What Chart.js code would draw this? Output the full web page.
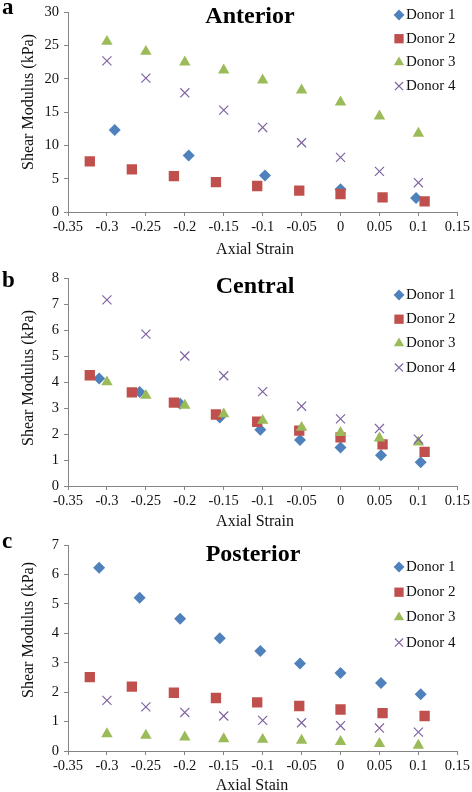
<!DOCTYPE html>
<html>
<head>
<meta charset="utf-8">
<script src="https://cdn.jsdelivr.net/npm/chart.js@4"></script>
<style>
  html, body { margin: 0; padding: 0; background: #fff; overflow: hidden; }
  #wrap { position: relative; width: 472px; height: 792px; }
  #wrap canvas { position: absolute; left: 0; top: 0; }
</style>
</head>
<body>
<div id="wrap">
  <canvas id="anterior" width="472" height="800"></canvas>
  <canvas id="central" width="472" height="800"></canvas>
  <canvas id="posterior" width="472" height="800"></canvas>
</div>
<script>
// axial strain positions (each donor sits slightly offset in the original)
const strainNominal = [-0.3, -0.25, -0.2, -0.15, -0.1, -0.05, 0, 0.05, 0.1];
const strainDonor1 = [-0.31, -0.258, -0.206, -0.155, -0.103, -0.052, 0, 0.052, 0.103];
const strainDonor1Ant = [-0.29, -0.195, -0.097, 0, 0.097];
const strainDonor2 = [-0.322, -0.268, -0.214, -0.16, -0.107, -0.053, 0, 0.054, 0.108];

// shear modulus (kPa)
const antDonor1 = [12.3, 8.5, 5.5, 3.4, 2.1];
const antDonor2 = [7.6, 6.4, 5.4, 4.5, 3.9, 3.2, 2.7, 2.2, 1.6];
const antDonor3 = [25.6, 24.1, 22.5, 21.3, 19.8, 18.3, 16.5, 14.4, 11.8];
const antDonor4 = [22.7, 20.1, 17.9, 15.3, 12.7, 10.4, 8.2, 6.1, 4.4];

const cenDonor1 = [4.13, 3.62, 3.16, 2.63, 2.16, 1.77, 1.48, 1.18, 0.91];
const cenDonor2 = [4.26, 3.6, 3.21, 2.75, 2.47, 2.13, 1.87, 1.6, 1.31];
const cenDonor3 = [4.0, 3.48, 3.1, 2.77, 2.52, 2.25, 2.05, 1.84, 1.68];
const cenDonor4 = [7.16, 5.84, 5.0, 4.24, 3.63, 3.07, 2.58, 2.21, 1.8];

const posDonor1 = [6.23, 5.21, 4.49, 3.83, 3.4, 2.97, 2.65, 2.31, 1.93];
const posDonor2 = [2.51, 2.19, 1.98, 1.8, 1.65, 1.53, 1.41, 1.29, 1.19];
const posDonor3 = [0.58, 0.53, 0.47, 0.41, 0.39, 0.36, 0.32, 0.25, 0.19];
const posDonor4 = [1.72, 1.5, 1.31, 1.19, 1.04, 0.96, 0.86, 0.78, 0.64];

const donorLabels = ['Donor 1', 'Donor 2', 'Donor 3', 'Donor 4'];
const xTicks = { min: -0.35, max: 0.15, step: 0.05 };

const SERIF = '"Liberation Serif", "Times New Roman", serif';
const AXIS = '#858585';
const TEXT = '#111';

const markers = [
  { pointStyle: 'rectRot', pointRadius: 6, color: '#4F81BD', borderWidth: 0 },
  { pointStyle: 'rect', pointRadius: 7.3, color: '#C0504D', borderWidth: 0 },
  { pointStyle: 'triangle', pointRadius: 6.6, color: '#9BBB59', borderWidth: 0 },
  { pointStyle: 'crossRot', pointRadius: 6.4, color: '#8064A2', borderWidth: 1.2 }
];

function pairs(xs, ys) {
  return ys.map((y, i) => ({ x: xs[i], y: y }));
}

function makeDatasets(series) {
  return series.map((pts, i) => {
    const m = markers[i];
    return {
      label: donorLabels[i],
      data: pts,
      showLine: false,
      pointStyle: m.pointStyle,
      pointRadius: m.pointRadius,
      pointHoverRadius: m.pointRadius,
      pointBackgroundColor: m.color,
      pointBorderColor: m.color,
      pointBorderWidth: m.borderWidth,
      backgroundColor: m.color,
      borderColor: m.color,
      order: 4 - i // later donors drawn on top, like the original
    };
  });
}

// letters, titles, axis titles and the legend sit at fixed spots inside each panel
const panelDecor = {
  id: 'panelDecor',
  afterDraw(chart, args, opts) {
    const ctx = chart.ctx;
    ctx.save();
    ctx.fillStyle = '#000';
    ctx.textBaseline = 'alphabetic';
    ctx.textAlign = 'left';
    ctx.font = 'bold 23px ' + SERIF;
    ctx.fillText(opts.letter, 2, opts.letterY);

    ctx.textAlign = 'center';
    ctx.font = 'bold 24px ' + SERIF;
    ctx.fillText(opts.title, opts.titleX, opts.titleY);

    ctx.fillStyle = TEXT;
    ctx.font = '16px ' + SERIF;
    ctx.fillText(opts.xTitle, opts.xTitleX, opts.xTitleY);

    ctx.save();
    ctx.translate(29, opts.yTitleY);
    ctx.rotate(-Math.PI / 2);
    ctx.textBaseline = 'middle';
    ctx.fillText('Shear Modulus (kPa)', 0, 0);
    ctx.restore();

    ctx.font = '15px ' + SERIF;
    ctx.textAlign = 'left';
    ctx.textBaseline = 'middle';
    chart.data.datasets.forEach((ds, i) => {
      const y = opts.legendY + i * opts.legendStep;
      const m = markers[i];
      ctx.fillStyle = m.color;
      ctx.strokeStyle = m.color;
      ctx.lineWidth = m.borderWidth || 1;
      Chart.helpers.drawPoint(ctx, {
        pointStyle: m.pointStyle,
        radius: m.pointRadius * 0.9,
        rotation: 0,
        borderWidth: m.borderWidth
      }, 399, y);
      ctx.fillStyle = TEXT;
      ctx.fillText(ds.label, 406, y);
    });
    ctx.restore();
  }
};

function makeChart(id, series, yMax, yStep, padTop, padBottom, decor) {
  const ctx = document.getElementById(id).getContext('2d');
  return new Chart(ctx, {
    type: 'scatter',
    data: { datasets: makeDatasets(series) },
    options: {
      responsive: false,
      animation: false,
      devicePixelRatio: 1,
      layout: { padding: { top: padTop, bottom: padBottom, left: 0, right: 13 } },
      events: [],
      plugins: {
        legend: { display: false },
        tooltip: { enabled: false },
        title: { display: false },
        panelDecor: decor
      },
      scales: {
        x: {
          type: 'linear',
          min: xTicks.min,
          max: xTicks.max,
          afterFit: s => { s.height = 44; },
          border: { color: AXIS, width: 1 },
          grid: { drawOnChartArea: false, tickLength: 4, color: AXIS },
          ticks: {
            stepSize: xTicks.step,
            padding: 2,
            color: TEXT,
            font: { family: SERIF, size: 14.5 },
            maxRotation: 0,
            callback: v => String(Math.round(v * 100) / 100)
          }
        },
        y: {
          min: 0,
          max: yMax,
          afterFit: s => { s.width = 68; },
          border: { color: AXIS, width: 1 },
          grid: { drawOnChartArea: false, tickLength: 4, color: AXIS },
          ticks: {
            stepSize: yStep,
            padding: 5,
            color: TEXT,
            font: { family: SERIF, size: 14.5, lineHeight: 1 }
          }
        }
      }
    },
    plugins: [panelDecor]
  });
}

makeChart('anterior', [
  pairs(strainDonor1Ant, antDonor1),
  pairs(strainDonor2, antDonor2),
  pairs(strainNominal, antDonor3),
  pairs(strainNominal, antDonor4)
], 30, 5, 7, 800 - 212 - 44, {
  letter: 'a', letterY: 14, title: 'Anterior', titleX: 250, titleY: 23,
  xTitle: 'Axial Strain', xTitleX: 255, xTitleY: 254, yTitleY: 102,
  legendY: 15, legendStep: 23.7
});

makeChart('central', [
  pairs(strainDonor1, cenDonor1),
  pairs(strainDonor2, cenDonor2),
  pairs(strainNominal, cenDonor3),
  pairs(strainNominal, cenDonor4)
], 8, 1, 278, 800 - 486 - 44, {
  letter: 'b', letterY: 287, title: 'Central', titleX: 255, titleY: 293,
  xTitle: 'Axial Strain', xTitleX: 255, xTitleY: 526, yTitleY: 378,
  legendY: 295, legendStep: 24.2
});

makeChart('posterior', [
  pairs(strainDonor1, posDonor1),
  pairs(strainDonor2, posDonor2),
  pairs(strainNominal, posDonor3),
  pairs(strainNominal, posDonor4)
], 7, 1, 545, 800 - 751 - 44, {
  letter: 'c', letterY: 548, title: 'Posterior', titleX: 253, titleY: 561,
  xTitle: 'Axial Stain', xTitleX: 252, xTitleY: 790, yTitleY: 630,
  legendY: 567, legendStep: 25.2
});
</script>
</body>
</html>
